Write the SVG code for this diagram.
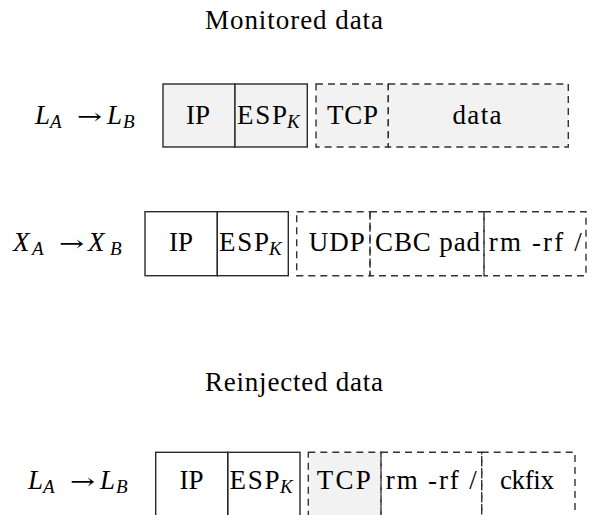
<svg xmlns="http://www.w3.org/2000/svg" width="594" height="515" viewBox="0 0 594 515">
<defs>
<style>
.sol{fill:none;stroke:#2a2a2a;stroke-width:1.4}
.dsh{fill:none;stroke:#333;stroke-width:1.4;stroke-dasharray:7 5}
.g{fill:#f2f2f2;stroke:none}
</style>
</defs>
<rect width="594" height="515" fill="#fff"/>
<text id="title-monitored" font-family="Liberation Serif" font-size="27" text-anchor="middle" x="294" y="29" textLength="178" lengthAdjust="spacing">Monitored data</text>
<text id="title-reinjected" font-family="Liberation Serif" font-size="27" text-anchor="middle" x="294" y="391" textLength="178" lengthAdjust="spacing">Reinjected data</text>

<g id="row1">
  <g id="row1-label">
    <text font-family="Liberation Serif" font-size="27" font-style="italic" x="35" y="124">L</text><text font-family="Liberation Serif" font-size="19" font-style="italic" x="50" y="128">A</text>
    <text font-family="DejaVu Serif" font-size="22" x="77" y="124" textLength="25" lengthAdjust="spacingAndGlyphs">→</text>
    <text font-family="Liberation Serif" font-size="27" font-style="italic" x="107" y="124">L</text><text font-family="Liberation Serif" font-size="19" font-style="italic" x="123" y="128">B</text>
  </g>
  <g id="row1-ip"><rect class="g" x="163" y="84" width="72" height="63"/><rect class="sol" x="163" y="84" width="72" height="63"/><text font-family="Liberation Serif" font-size="27" text-anchor="middle" x="198" y="124">IP</text></g>
  <g id="row1-esp"><rect class="g" x="235" y="84" width="72.3" height="63"/><rect class="sol" x="235" y="84" width="72.3" height="63"/><text font-family="Liberation Serif" font-size="27" x="237" y="124" textLength="50" lengthAdjust="spacing">ESP</text><text font-family="Liberation Serif" font-size="19" font-style="italic" x="287" y="128">K</text></g>
  <g id="row1-tcp"><rect class="g" x="316" y="84" width="72.3" height="63"/><rect class="dsh" x="316" y="84" width="72.3" height="63"/><text font-family="Liberation Serif" font-size="27" text-anchor="middle" x="352.5" y="124" textLength="51" lengthAdjust="spacing">TCP</text></g>
  <g id="row1-data"><rect class="g" x="388.3" y="84" width="180" height="63"/><rect class="dsh" x="388.3" y="84" width="180" height="63"/><text font-family="Liberation Serif" font-size="27" text-anchor="middle" x="477" y="124" textLength="49" lengthAdjust="spacing">data</text></g>
</g>

<g id="row2">
  <g id="row2-label">
    <text font-family="Liberation Serif" font-size="27" font-style="italic" x="13" y="251">X</text><text font-family="Liberation Serif" font-size="19" font-style="italic" x="32" y="255">A</text>
    <text font-family="DejaVu Serif" font-size="22" x="59" y="251" textLength="25" lengthAdjust="spacingAndGlyphs">→</text>
    <text font-family="Liberation Serif" font-size="27" font-style="italic" x="88" y="251">X</text><text font-family="Liberation Serif" font-size="19" font-style="italic" x="110" y="255">B</text>
  </g>
  <g id="row2-ip"><rect class="sol" x="145" y="211.7" width="72.3" height="64"/><text font-family="Liberation Serif" font-size="27" text-anchor="middle" x="181" y="251">IP</text></g>
  <g id="row2-esp"><rect class="sol" x="217.3" y="211.7" width="71" height="64"/><text font-family="Liberation Serif" font-size="27" x="219" y="251" textLength="50" lengthAdjust="spacing">ESP</text><text font-family="Liberation Serif" font-size="19" font-style="italic" x="269" y="255">K</text></g>
  <g id="row2-udp"><rect class="dsh" x="296.7" y="211.7" width="73.3" height="64"/><text font-family="Liberation Serif" font-size="27" text-anchor="middle" x="336.7" y="251" textLength="56" lengthAdjust="spacing">UDP</text></g>
  <g id="row2-cbc"><rect class="dsh" x="370" y="211.7" width="114" height="64"/><text font-family="Liberation Serif" font-size="27" text-anchor="middle" x="427.5" y="251" textLength="105" lengthAdjust="spacing">CBC pad</text></g>
  <g id="row2-rm"><rect class="dsh" x="484" y="211.7" width="102" height="64"/><text font-family="Liberation Serif" font-size="27" text-anchor="middle" x="535.3" y="251" textLength="93" lengthAdjust="spacing">rm -rf /</text></g>
</g>

<g id="row3">
  <g id="row3-label">
    <text font-family="Liberation Serif" font-size="27" font-style="italic" x="28" y="489">L</text><text font-family="Liberation Serif" font-size="19" font-style="italic" x="43" y="493">A</text>
    <text font-family="DejaVu Serif" font-size="22" x="70" y="489" textLength="25" lengthAdjust="spacingAndGlyphs">→</text>
    <text font-family="Liberation Serif" font-size="27" font-style="italic" x="100" y="489">L</text><text font-family="Liberation Serif" font-size="19" font-style="italic" x="116" y="493">B</text>
  </g>
  <g id="row3-ip"><rect class="sol" x="155.7" y="452.3" width="72" height="80"/><text font-family="Liberation Serif" font-size="27" text-anchor="middle" x="191.5" y="489">IP</text></g>
  <g id="row3-esp"><rect class="sol" x="227.7" y="452.3" width="72.3" height="80"/><text font-family="Liberation Serif" font-size="27" x="229.5" y="489" textLength="50" lengthAdjust="spacing">ESP</text><text font-family="Liberation Serif" font-size="19" font-style="italic" x="280" y="493">K</text></g>
  <g id="row3-tcp"><rect class="g" x="308.3" y="452.3" width="72.7" height="80"/><rect class="dsh" x="308.3" y="452.3" width="72.7" height="80"/><text font-family="Liberation Serif" font-size="27" text-anchor="middle" x="343.7" y="489" textLength="54" lengthAdjust="spacing">TCP</text></g>
  <g id="row3-rm"><rect class="dsh" x="381" y="452.3" width="100.7" height="80"/><text font-family="Liberation Serif" font-size="27" text-anchor="middle" x="431.3" y="489" textLength="91" lengthAdjust="spacing">rm -rf /</text></g>
  <g id="row3-ckfix"><rect class="dsh" x="481.7" y="452.3" width="93.3" height="80"/><text font-family="Liberation Serif" font-size="27" text-anchor="middle" x="527" y="489" textLength="54" lengthAdjust="spacing">ckfix</text></g>
</g>
</svg>
